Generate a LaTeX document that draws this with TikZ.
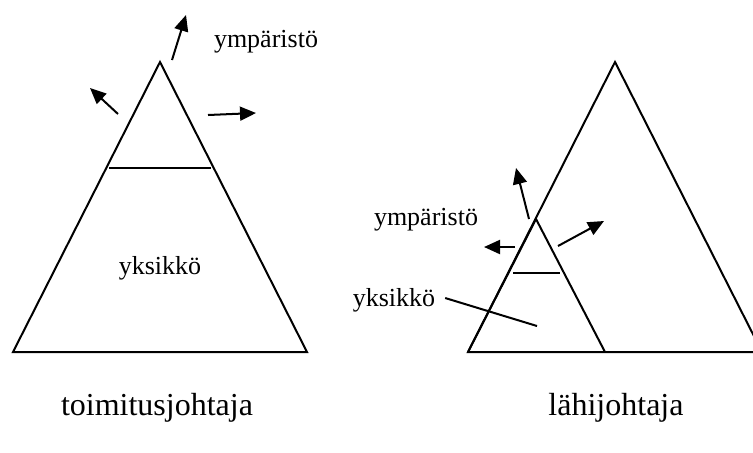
\documentclass[tikz,border=0pt]{standalone}
\usepackage{fontspec}
\setmainfont{Liberation Serif}
\usetikzlibrary{arrows.meta}

\begin{document}
\begin{tikzpicture}[
  x=0.5pt, y=-0.5pt,
  line width=1pt,
  tri/.style={line join=miter},
  arrow/.style={-{Triangle[length=8pt,width=7pt]}},
  lbl/.style={font=\fontsize{13}{15}\selectfont, inner sep=0pt},
  title/.style={font=\fontsize{16}{19}\selectfont, inner sep=0pt},
]
\clip (0,0) rectangle (753,452);

\coordinate (ltop) at (160,62);
\coordinate (lleft) at (13,352);
\coordinate (lright) at (307,352);
\draw[tri] (lleft) -- (ltop) -- (lright) -- cycle;
\draw (109,168) -- (211,168);
\draw[arrow] (172,60) -- (186,15);
\draw[arrow] (118,114) -- (90,88);
\draw[arrow] (208,115) -- (256,113);
\node[lbl] (ymp1) at (266,42) {ympäristö};
\node[lbl] (yks1) at (160,268) {yksikkö};
\node[title] (toim) at (157,408) {toimitusjohtaja};

\coordinate (rtop) at (615,62);
\coordinate (rleft) at (468,352);
\coordinate (rright) at (762,352);
\coordinate (stop) at (536,219);
\coordinate (sright) at (605,352);
\draw[tri] (rleft) -- (rtop) -- (rright) -- cycle;
\draw[tri] (rleft) -- (stop) -- (sright);
\draw (513,273) -- (560,273);
\draw[arrow] (529,219) -- (516,168);
\draw[arrow] (515,247) -- (484,247);
\draw[arrow] (558,246) -- (604,221);
\node[lbl] (ymp2) at (426,220) {ympäristö};
\node[lbl] (yks2) at (394,300) {yksikkö};
\coordinate (yksend) at (537,326);
\draw (yks2.east) ++(9,-2) -- (yksend);
\node[title] (lahi) at (616,408) {lähijohtaja};
\end{tikzpicture}
\end{document}
